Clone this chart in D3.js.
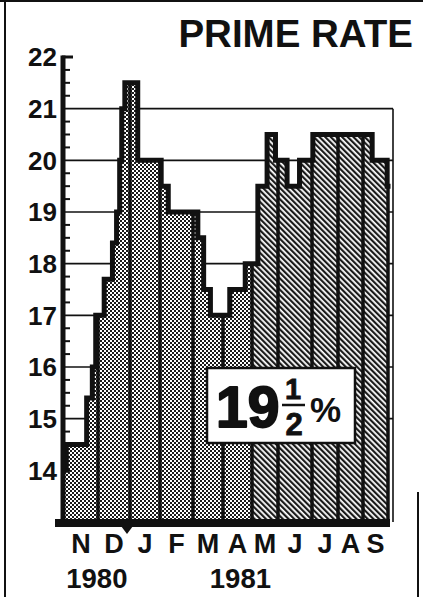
<!DOCTYPE html>
<html>
<head>
<meta charset="utf-8">
<script src="https://cdn.jsdelivr.net/npm/d3@7"></script>
<style>
  html, body { margin: 0; padding: 0; background: #fff; }
  svg { display: block; }
  text { font-family: "Liberation Sans", Arial, Helvetica, sans-serif; fill: #111; }
</style>
</head>
<body>
<svg id="chart" width="423" height="597"></svg>
<script>
// ---------------- data ----------------
const monthLabels = ["N", "D", "J", "F", "M", "A", "M", "J", "J", "A", "S"];
const monthStarts = ["1980-11-01", "1980-12-01", "1981-01-01", "1981-02-01", "1981-03-01",
                     "1981-04-01", "1981-05-01", "1981-06-01", "1981-07-01", "1981-08-01",
                     "1981-09-01", "1981-10-01"];
const yTickValues = [14, 15, 16, 17, 18, 19, 20, 21, 22];
const gridValues = [15, 16, 17, 18, 19, 20, 21];
const yearLabels = ["1980", "1981"];
const yearLabelDates = ["1980-11-30", "1981-04-19"];
// prime rate step changes (date the new rate took effect, rate in %)
const stepDates = ["1980-11-01", "1980-11-03", "1980-11-21", "1980-11-26", "1980-11-29",
                   "1980-12-07", "1980-12-15", "1980-12-19", "1980-12-22", "1980-12-24",
                   "1980-12-27", "1981-01-09", "1981-02-02", "1981-02-08", "1981-03-06",
                   "1981-03-12", "1981-03-19", "1981-04-08", "1981-04-24", "1981-05-08",
                   "1981-05-19", "1981-05-29", "1981-06-09", "1981-06-20", "1981-07-02",
                   "1981-09-12", "1981-09-30", "1981-10-01"];
const stepRates = [14, 14.5, 15.4, 16, 17,
                   17.7, 18.4, 19, 20, 21,
                   21.5, 20, 19.5, 19, 18.5,
                   17.5, 17, 17.5, 18, 19.5,
                   20.5, 20, 19.5, 20, 20.5,
                   20, 19.5, 19.5];
const currentRateWhole = "19";
const currentRateNum = "1";
const currentRateDen = "2";
const hatchFrom = "1981-05-01";

// ---------------- setup ----------------
const parse = d3.timeParse("%Y-%m-%d");
const W = 423, H = 597;
const svg = d3.select("#chart");

// column edges of the hand-drawn month strips (layout)
const x = d3.scaleTime()
  .domain(monthStarts.map(parse))
  .range([64, 98, 130, 160, 193, 223, 252, 278, 312, 338, 363, 388]);
const y = d3.scaleLinear().domain([13, 22]).range([522, 57]);

const steps = stepDates.map((d, i) => ({ date: parse(d), rate: stepRates[i] }));
const rateAt = date => {
  const i = d3.bisector(d => d.date).right(steps, date) - 1;
  return steps[Math.max(0, Math.min(i, steps.length - 1))].rate;
};

const defs = svg.append("defs");
const dots = defs.append("pattern").attr("id", "dots")
  .attr("patternUnits", "userSpaceOnUse").attr("width", 4).attr("height", 4);
dots.append("rect").attr("width", 4).attr("height", 4).attr("fill", "#fff");
dots.append("rect").attr("x", 0).attr("y", 0).attr("width", 2).attr("height", 2).attr("fill", "#1a1a1a");
dots.append("rect").attr("x", 2).attr("y", 2).attr("width", 2).attr("height", 2).attr("fill", "#1a1a1a");

const hatch = defs.append("pattern").attr("id", "hatch")
  .attr("patternUnits", "userSpaceOnUse").attr("width", 4).attr("height", 4)
  .attr("patternTransform", "rotate(-45)");
hatch.append("rect").attr("width", 4).attr("height", 4).attr("fill", "#fff");
hatch.append("rect").attr("x", 0).attr("y", 0).attr("width", 2.2).attr("height", 4).attr("fill", "#1a1a1a");

const xHatch = x(parse(hatchFrom));
const x0 = x.range()[0], x1 = x.range()[x.range().length - 1];
defs.append("clipPath").attr("id", "clipL").append("rect")
  .attr("x", 0).attr("y", 0).attr("width", xHatch).attr("height", H);
defs.append("clipPath").attr("id", "clipR").append("rect")
  .attr("x", xHatch).attr("y", 0).attr("width", W - xHatch).attr("height", H);

// ---------------- page frame ----------------
svg.append("rect").attr("width", W).attr("height", H).attr("fill", "#fff");
svg.append("line").attr("x1", 0).attr("x2", W).attr("y1", 1).attr("y2", 1)
  .attr("stroke", "#111").attr("stroke-width", 2);
svg.append("line").attr("x1", 5).attr("x2", 5).attr("y1", 0).attr("y2", H)
  .attr("stroke", "#111").attr("stroke-width", 2);
svg.append("line").attr("x1", 418).attr("x2", 418).attr("y1", 492).attr("y2", H)
  .attr("stroke", "#111").attr("stroke-width", 2);

// ---------------- grid box ----------------
const gridRight = x1 + 5;
svg.append("g").selectAll("line").data(gridValues).join("line")
  .attr("x1", x0).attr("x2", gridRight)
  .attr("y1", d => y(d)).attr("y2", d => y(d))
  .attr("stroke", "#111").attr("stroke-width", 1.6);
svg.append("line").attr("x1", gridRight).attr("x2", gridRight)
  .attr("y1", y(21)).attr("y2", y(13))
  .attr("stroke", "#111").attr("stroke-width", 1.6);

// ---------------- filled steps ----------------
const area = d3.area().curve(d3.curveStepAfter)
  .x(d => x(d.date)).y0(y(13)).y1(d => y(d.rate));
svg.append("path").datum(steps).attr("d", area)
  .attr("fill", "url(#dots)").attr("clip-path", "url(#clipL)");
svg.append("path").datum(steps).attr("d", area)
  .attr("fill", "url(#hatch)").attr("clip-path", "url(#clipR)");

// month dividers
const edges = monthStarts.map(parse).slice(1);
svg.append("g").selectAll("line").data(edges).join("line")
  .attr("x1", d => x(d)).attr("x2", d => x(d))
  .attr("y1", y(13)).attr("y2", d => y(rateAt(d3.timeDay.offset(d, -1))) )
  .attr("stroke", "#111").attr("stroke-width", 3.5);

// step line
const line = d3.line().curve(d3.curveStepAfter)
  .x(d => x(d.date)).y(d => y(d.rate));
svg.append("path").datum(steps).attr("d", line)
  .attr("fill", "none").attr("stroke", "#111").attr("stroke-width", 5)
  .attr("stroke-linejoin", "miter").attr("stroke-linecap", "square");

// ---------------- y axis ----------------
const minorTicks = d3.range(14, 22.01, 0.25).filter(v => v % 1 !== 0);
svg.append("g").selectAll("line").data(minorTicks).join("line")
  .attr("x1", x0).attr("x2", x0 + 6)
  .attr("y1", d => y(d)).attr("y2", d => y(d))
  .attr("stroke", "#111").attr("stroke-width", 2);
svg.append("line").attr("x1", x0 - 2).attr("x2", x0 + 9)
  .attr("y1", y(22)).attr("y2", y(22)).attr("stroke", "#111").attr("stroke-width", 3);
svg.append("line").attr("x1", x0 - 2).attr("x2", x0 + 6)
  .attr("y1", y(14)).attr("y2", y(14)).attr("stroke", "#111").attr("stroke-width", 3);
svg.append("line").attr("x1", x0 - 1).attr("x2", x0 - 1)
  .attr("y1", y(22) - 1.5).attr("y2", y(13) + 4)
  .attr("stroke", "#111").attr("stroke-width", 5);

svg.append("g").selectAll("text").data(yTickValues).join("text")
  .attr("x", 57).attr("y", d => y(d)).attr("dy", "0.36em")
  .attr("text-anchor", "end").attr("font-size", 26).attr("font-weight", "bold")
  .text(d => d);

// baseline
svg.append("rect").attr("x", 55).attr("y", y(13) - 3)
  .attr("width", x1 + 2 - 55).attr("height", 8).attr("fill", "#111");
// year-boundary marker
const xj = x(parse("1981-01-01")) - 3;
svg.append("path")
  .attr("d", `M${xj - 6},${y(13) + 4} L${xj + 6},${y(13) + 4} L${xj},${y(13) + 12} Z`)
  .attr("fill", "#111");

// month labels
const mids = monthStarts.slice(0, -1).map((d, i) => {
  const a = parse(d), b = parse(monthStarts[i + 1]);
  return new Date((+a + +b) / 2);
});
svg.append("g").selectAll("text").data(monthLabels).join("text")
  .attr("x", (d, i) => x(mids[i])).attr("y", 553)
  .attr("text-anchor", "middle").attr("font-size", 27).attr("font-weight", "bold")
  .text(d => d);

svg.append("g").selectAll("text").data(yearLabels).join("text")
  .attr("x", (d, i) => x(parse(yearLabelDates[i]))).attr("y", 588)
  .attr("text-anchor", "middle").attr("font-size", 27.5).attr("font-weight", "bold")
  .text(d => d);

// title
svg.append("text").attr("x", 413).attr("y", 47).attr("text-anchor", "end")
  .attr("font-size", 38.5).attr("font-weight", "bold").text("PRIME RATE");

// ---------------- current-rate box ----------------
const box = svg.append("g");
box.append("rect").attr("x", 207).attr("y", 368).attr("width", 148).attr("height", 75)
  .attr("fill", "#fff").attr("stroke", "#111").attr("stroke-width", 2.5);
box.append("text").attr("x", 216).attr("y", 427)
  .attr("font-size", 57).attr("font-weight", "bold")
  .attr("stroke", "#111").attr("stroke-width", 2).attr("stroke-linejoin", "round")
  .text(currentRateWhole);
box.append("text").attr("x", 293).attr("y", 399).attr("text-anchor", "middle")
  .attr("font-size", 29).attr("font-weight", "bold")
  .attr("stroke", "#111").attr("stroke-width", 0.8).text(currentRateNum);
box.append("line").attr("x1", 282).attr("x2", 305).attr("y1", 405).attr("y2", 405)
  .attr("stroke", "#111").attr("stroke-width", 2.5);
box.append("text").attr("x", 294).attr("y", 435).attr("text-anchor", "middle")
  .attr("font-size", 31).attr("font-weight", "bold")
  .attr("stroke", "#111").attr("stroke-width", 0.8).text(currentRateDen);
box.append("text").attr("x", 310).attr("y", 422)
  .attr("font-size", 35).attr("font-weight", "bold").text("%");
</script>
</body>
</html>
